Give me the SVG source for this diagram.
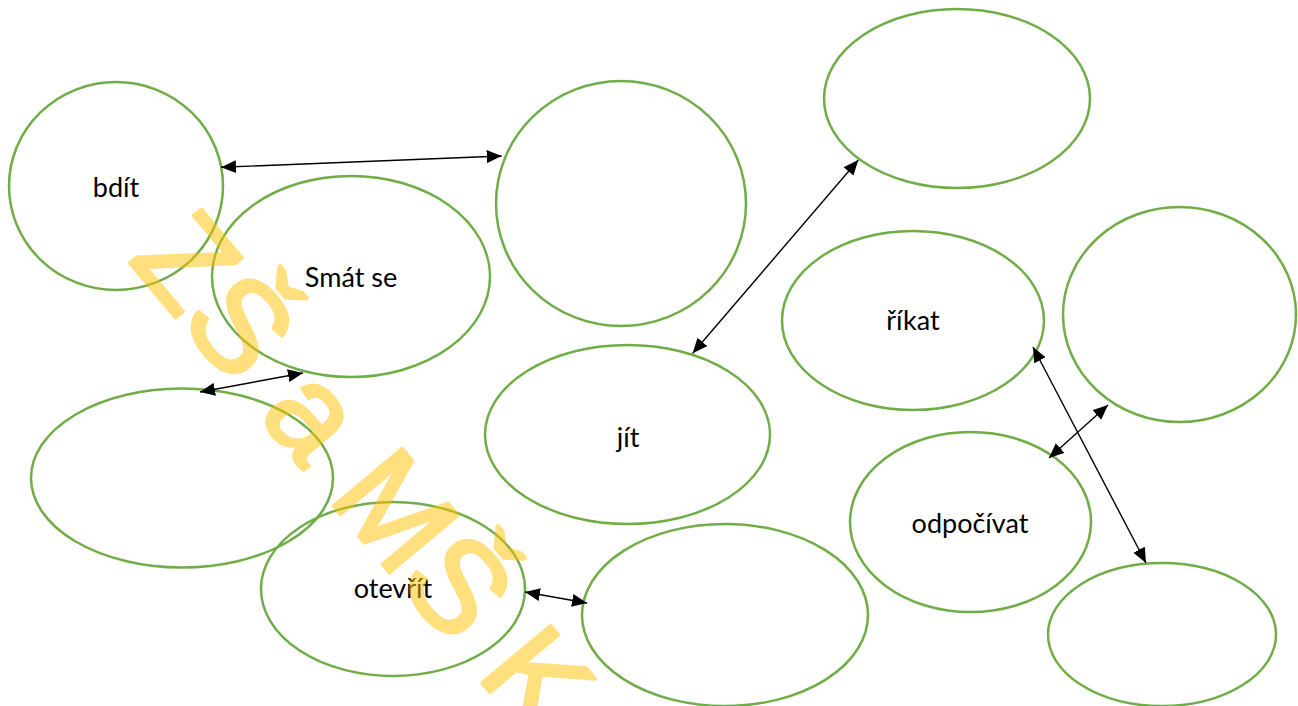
<svg xmlns="http://www.w3.org/2000/svg" width="1298" height="706" viewBox="0 0 1298 706">
  <style>
    .node ellipse { fill: none; stroke: #70AD47; stroke-width: 2.5; }
    .node text { font-family: Lato, "Open Sans", "Liberation Sans", sans-serif; font-size: 27px; fill: #000; text-anchor: middle; }
    .conn line { stroke: #000; stroke-width: 1.4; marker-start: url(#ah); marker-end: url(#ah); }
    .wm { font-family: "Liberation Sans", Arial, sans-serif; font-size: 130px; fill: #FFC000; stroke: #FFC000; stroke-width: 3.5; stroke-linejoin: round; }
  </style>
  <defs>
    <marker id="ah" markerUnits="userSpaceOnUse" markerWidth="16" markerHeight="13" refX="15" refY="6.5" orient="auto-start-reverse">
      <path d="M0,0 L15,6.5 L0,13 z" fill="#000"/>
    </marker>
  </defs>
  <rect width="1298" height="706" fill="#fff"/>

  <g id="n-bdit" class="node"><ellipse cx="116" cy="186" rx="107" ry="104"/><text x="116" y="197">bdít</text></g>
  <g id="n-smat" class="node"><ellipse cx="351" cy="276.5" rx="139" ry="100.5"/><text x="351" y="287">Smát se</text></g>
  <g id="n-topmid" class="node"><ellipse cx="621" cy="203.5" rx="125" ry="122.5"/></g>
  <g id="n-topright" class="node"><ellipse cx="957" cy="98.5" rx="133" ry="89.5"/></g>
  <g id="n-rikat" class="node"><ellipse cx="913" cy="320.5" rx="131" ry="89.5"/><text x="913" y="330">říkat</text></g>
  <g id="n-farright" class="node"><ellipse cx="1179.5" cy="314.5" rx="116.5" ry="107.5"/></g>
  <g id="n-leftmid" class="node"><ellipse cx="182" cy="478" rx="151" ry="89.5"/></g>
  <g id="n-jit" class="node"><ellipse cx="627.5" cy="434.5" rx="142.5" ry="89.5"/><text x="628" y="447">jít</text></g>
  <g id="n-otevrit" class="node"><ellipse cx="393" cy="589" rx="132" ry="87"/><text x="393" y="598">otevřít</text></g>
  <g id="n-botmid" class="node"><ellipse cx="725" cy="615" rx="143" ry="91"/></g>
  <g id="n-odpocivat" class="node"><ellipse cx="970.5" cy="522" rx="120.5" ry="90"/><text x="970" y="533">odpočívat</text></g>
  <g id="n-botright" class="node"><ellipse cx="1162" cy="634.5" rx="114" ry="71.5"/></g>

  <g id="connectors" class="conn">
    <line x1="221" y1="167.3" x2="501.7" y2="156"/>
    <line x1="200" y1="392" x2="303" y2="373"/>
    <line x1="692.7" y1="353.3" x2="858.3" y2="160"/>
    <line x1="525" y1="592" x2="587" y2="603"/>
    <line x1="1049" y1="458" x2="1108" y2="405"/>
    <line x1="1033" y1="347" x2="1146" y2="563"/>
  </g>

  <g id="watermark" opacity="0.5">
    <text class="wm" transform="translate(127,260) rotate(50)">ZŠ a MŠ K</text>
  </g>
</svg>
